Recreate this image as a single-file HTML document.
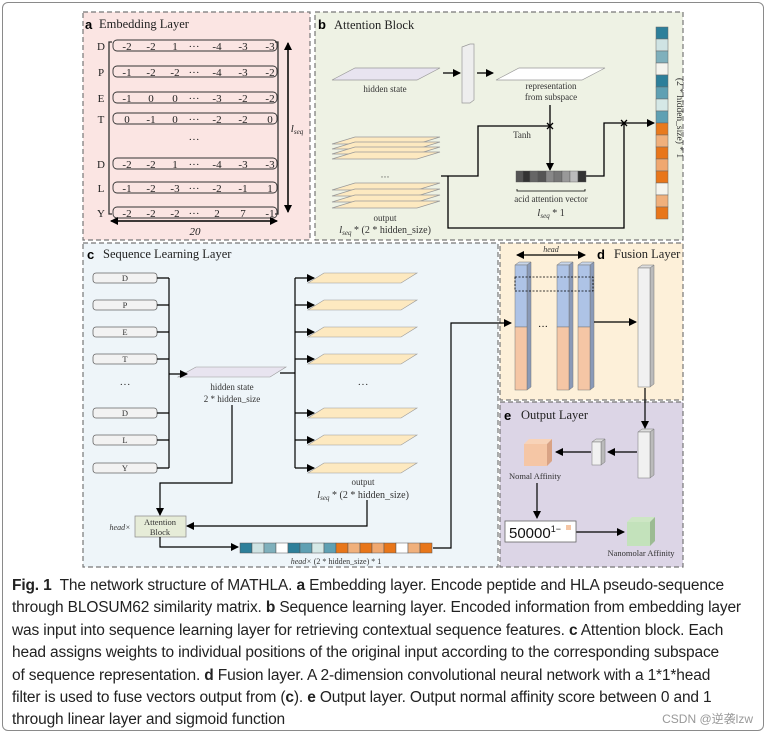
<!DOCTYPE html>
<html><head><meta charset="utf-8"><style>
html,body{margin:0;padding:0;background:#fff;}
body{width:767px;height:734px;position:relative;overflow:hidden;}
.frame{position:absolute;left:2px;top:2px;width:760px;height:727px;border:1px solid #8a8a8a;border-radius:6px;}
.cap{position:absolute;left:12px;top:575px;width:750px;font-family:"Liberation Sans",sans-serif;font-size:15.5px;line-height:22.4px;color:#222;letter-spacing:-0.15px;white-space:nowrap;}
.wm{position:absolute;right:14px;top:710px;font-family:"Liberation Sans","Noto Sans CJK SC",sans-serif;font-size:12px;color:#999;}
svg{position:absolute;left:0;top:0;}
</style></head><body>
<div class="frame"></div>
<svg width="767" height="734" viewBox="0 0 767 734" font-family="Liberation Serif, serif">
<defs><marker id="ar" markerWidth="8" markerHeight="8" refX="7" refY="4" orient="auto" markerUnits="userSpaceOnUse"><path d="M0,0 L8,4 L0,8z" fill="#000"/></marker>
<marker id="as" markerWidth="8" markerHeight="8" refX="1" refY="4" orient="auto" markerUnits="userSpaceOnUse"><path d="M8,0 L0,4 L8,8z" fill="#000"/></marker></defs>
<g stroke="#777" stroke-dasharray="5,3" stroke-width="1.2">
<rect x="83" y="12" width="227" height="228" fill="#fbe5e3"/>
<rect x="315" y="12" width="368" height="228" fill="#eef2e4"/>
<rect x="83" y="243" width="415" height="324" fill="#eef5f9"/>
<rect x="500" y="243" width="183" height="157" fill="#fdf0d9"/>
<rect x="500" y="402" width="183" height="165" fill="#dcd5e6"/>
</g>
<g font-family="Liberation Sans, sans-serif" font-weight="bold" font-size="13"><text x="85" y="29">a</text><text x="318" y="29">b</text><text x="87" y="259">c</text><text x="597" y="259">d</text><text x="504" y="420">e</text></g>
<g font-size="12.5" fill="#222"><text x="99" y="28">Embedding Layer</text><text x="334" y="29">Attention Block</text><text x="103" y="258">Sequence Learning Layer</text><text x="614" y="258">Fusion Layer</text><text x="521" y="419">Output Layer</text></g>
<!-- a -->
<g font-size="11" fill="#222" text-anchor="middle">
<path d="M112,42 h-3 v172 h3 M275,42 h3 v172 h-3" fill="none" stroke="#333" stroke-width="1.3"/>
<g fill="none" stroke="#333" stroke-width="0.9">
<rect x="113" y="40" width="164" height="11" rx="4"/><rect x="113" y="66" width="164" height="11" rx="4"/><rect x="113" y="92" width="164" height="11" rx="4"/><rect x="113" y="113" width="164" height="11" rx="4"/><rect x="113" y="158" width="164" height="11" rx="4"/><rect x="113" y="182" width="164" height="11" rx="4"/><rect x="113" y="207" width="164" height="11" rx="4"/></g>
<text x="101" y="50">D</text><text x="101" y="76">P</text><text x="101" y="102">E</text><text x="101" y="123">T</text><text x="101" y="168">D</text><text x="101" y="192">L</text><text x="101" y="217">Y</text>
<g><text y="50"><tspan x="127">-2</tspan><tspan x="151">-2</tspan><tspan x="175">1</tspan><tspan x="194">···</tspan><tspan x="217">-4</tspan><tspan x="243">-3</tspan><tspan x="270">-3</tspan></text>
<text y="76"><tspan x="127">-1</tspan><tspan x="151">-2</tspan><tspan x="175">-2</tspan><tspan x="194">···</tspan><tspan x="217">-4</tspan><tspan x="243">-3</tspan><tspan x="270">-2</tspan></text>
<text y="102"><tspan x="127">-1</tspan><tspan x="151">0</tspan><tspan x="175">0</tspan><tspan x="194">···</tspan><tspan x="217">-3</tspan><tspan x="243">-2</tspan><tspan x="270">-2</tspan></text>
<text y="123"><tspan x="127">0</tspan><tspan x="151">-1</tspan><tspan x="175">0</tspan><tspan x="194">···</tspan><tspan x="217">-2</tspan><tspan x="243">-2</tspan><tspan x="270">0</tspan></text>
<text x="194" y="143">···</text>
<text y="168"><tspan x="127">-2</tspan><tspan x="151">-2</tspan><tspan x="175">1</tspan><tspan x="194">···</tspan><tspan x="217">-4</tspan><tspan x="243">-3</tspan><tspan x="270">-3</tspan></text>
<text y="192"><tspan x="127">-1</tspan><tspan x="151">-2</tspan><tspan x="175">-3</tspan><tspan x="194">···</tspan><tspan x="217">-2</tspan><tspan x="243">-1</tspan><tspan x="270">1</tspan></text>
<text y="217"><tspan x="127">-2</tspan><tspan x="151">-2</tspan><tspan x="175">-2</tspan><tspan x="194">···</tspan><tspan x="217">2</tspan><tspan x="243">7</tspan><tspan x="270">-1</tspan></text></g>
<line x1="288" y1="43" x2="288" y2="212" stroke="#000" stroke-width="1.5" marker-start="url(#as)" marker-end="url(#ar)"/>
<text x="297" y="132" font-style="italic" font-size="11">l<tspan font-size="7" dy="2">seq</tspan></text>
<line x1="111" y1="221" x2="277" y2="221" stroke="#000" stroke-width="1.5" marker-start="url(#as)" marker-end="url(#ar)"/>
<text x="195" y="235" font-style="italic">20</text>
</g>
<!-- b -->
<g stroke="#999" stroke-width="0.7">
<polygon points="355,68 440,68 417,80 332,80" fill="#e8e4f0"/>
<polygon points="519,68 605,68 582,80 496,80" fill="#fff"/>
<polygon points="462,47 470,44 474,44 474,100 470,103 462,103" fill="#eee"/>
<g fill="#fde9c0"><polygon points="355,137 440,137 417,144 332,144"/><polygon points="355,142 440,142 417,149 332,149"/><polygon points="355,147 440,147 417,154 332,154"/><polygon points="355,152 440,152 417,159 332,159"/>
<polygon points="355,183 440,183 417,190 332,190"/><polygon points="355,189 440,189 417,196 332,196"/><polygon points="355,195 440,195 417,202 332,202"/><polygon points="355,201 440,201 417,208 332,208"/></g>
</g>
<g font-size="9" fill="#333" text-anchor="middle"><text x="385" y="92">hidden state</text><text x="551" y="89">representation</text><text x="551" y="100">from subspace</text><text x="385" y="180">···</text><text x="385" y="221">output</text><text x="385" y="233" font-size="10"><tspan font-style="italic" font-size="11">l</tspan><tspan font-size="7" font-style="italic" dy="2">seq</tspan><tspan dy="-2"> * (2 * hidden_size)</tspan></text><text x="522" y="138">Tanh</text><text x="551" y="202">acid attention vector</text><text x="551" y="216" font-size="10"><tspan font-style="italic" font-size="11">l</tspan><tspan font-size="7" font-style="italic" dy="2">seq</tspan><tspan dy="-2"> * 1</tspan></text></g>
<g stroke="#000" stroke-width="1.3" fill="none">
<line x1="443" y1="73" x2="460" y2="73" marker-end="url(#ar)"/><line x1="477" y1="73" x2="493" y2="73" marker-end="url(#ar)"/>
<line x1="550" y1="105" x2="550" y2="170" marker-end="url(#ar)"/>
<polyline points="441,176 478,176 478,126 550,126"/>
<polyline points="586,176 604,176 604,123 654,123" marker-end="url(#ar)"/>
<polyline points="448,176 448,228 624,228 624,123"/>
<path d="M547,123 l6,6 M553,123 l-6,6 M621,120 l6,6 M627,120 l-6,6"/>
<path d="M517,189 v2 h68 v-2" stroke-width="0.8"/>
</g>
<g stroke="#555" stroke-width="0.4"><rect x="516" y="171" width="7" height="11" fill="#555"/><rect x="523" y="171" width="7" height="11" fill="#333"/><rect x="530" y="171" width="8" height="11" fill="#666"/><rect x="538" y="171" width="8" height="11" fill="#555"/><rect x="546" y="171" width="8" height="11" fill="#888"/><rect x="554" y="171" width="8" height="11" fill="#777"/><rect x="562" y="171" width="8" height="11" fill="#999"/><rect x="570" y="171" width="8" height="11" fill="#bbb"/><rect x="578" y="171" width="8" height="11" fill="#333"/></g>
<g stroke="#666" stroke-width="0.5">
<rect x="656" y="27" width="12" height="12" fill="#2d7f9a"/><rect x="656" y="39" width="12" height="12" fill="#cfe3e3"/><rect x="656" y="51" width="12" height="12" fill="#7fb0bc"/><rect x="656" y="63" width="12" height="12" fill="#f4f4ee"/><rect x="656" y="75" width="12" height="12" fill="#2d7f9a"/><rect x="656" y="87" width="12" height="12" fill="#5fa0b3"/><rect x="656" y="99" width="12" height="12" fill="#d5e8e6"/><rect x="656" y="111" width="12" height="12" fill="#5fa0b3"/><rect x="656" y="123" width="12" height="12" fill="#e87a1e"/><rect x="656" y="135" width="12" height="12" fill="#f0b07c"/><rect x="656" y="147" width="12" height="12" fill="#e8761a"/><rect x="656" y="159" width="12" height="12" fill="#f0a870"/><rect x="656" y="171" width="12" height="12" fill="#e8761a"/><rect x="656" y="183" width="12" height="12" fill="#f5f5ee"/><rect x="656" y="195" width="12" height="12" fill="#f0b07c"/><rect x="656" y="207" width="12" height="12" fill="#e8761a"/></g>
<text x="0" y="0" font-size="9.5" fill="#333" text-anchor="middle" transform="translate(677,118) rotate(90)">(2 * hidden_size) * 1</text>
<!-- c -->
<g stroke="#666" stroke-width="0.8" fill="#f2f2f2">
<rect x="93" y="273" width="64" height="10" rx="3"/><rect x="93" y="300" width="64" height="10" rx="3"/><rect x="93" y="327" width="64" height="10" rx="3"/><rect x="93" y="354" width="64" height="10" rx="3"/><rect x="93" y="408" width="64" height="10" rx="3"/><rect x="93" y="435" width="64" height="10" rx="3"/><rect x="93" y="463" width="64" height="10" rx="3"/></g>
<g font-size="8.5" fill="#333" text-anchor="middle"><text x="125" y="281">D</text><text x="125" y="308">P</text><text x="125" y="335">E</text><text x="125" y="362">T</text><text x="125" y="388" font-size="11">···</text><text x="125" y="416">D</text><text x="125" y="443">L</text><text x="125" y="471">Y</text></g>
<polygon points="196,367 286,367 270,377 178,377" fill="#e8e4f0" stroke="#999" stroke-width="0.6"/>
<g fill="#fde9c0" stroke="#999" stroke-width="0.6">
<polygon points="324,273 417,273 401,283 308,283"/><polygon points="324,300 417,300 401,310 308,310"/><polygon points="324,327 417,327 401,337 308,337"/><polygon points="324,354 417,354 401,364 308,364"/><polygon points="324,408 417,408 401,418 308,418"/><polygon points="324,435 417,435 401,445 308,445"/><polygon points="324,463 417,463 401,473 308,473"/></g>
<g font-size="9" fill="#333" text-anchor="middle"><text x="232" y="390">hidden state</text><text x="232" y="402">2 * hidden_size</text><text x="363" y="388" font-size="11">···</text><text x="363" y="485">output</text><text x="363" y="498" font-size="10"><tspan font-style="italic" font-size="11">l</tspan><tspan font-size="7" font-style="italic" dy="2">seq</tspan><tspan dy="-2"> * (2 * hidden_size)</tspan></text>
<text x="120" y="530" font-style="italic" font-size="8">head×</text><text x="336" y="564" font-size="8"><tspan font-style="italic">head×</tspan> (2 * hidden_size) * 1</text></g>
<rect x="135" y="516" width="51" height="21" fill="#e6ecd8" stroke="#888" stroke-width="0.7"/>
<text x="160" y="525" font-size="8.5" text-anchor="middle" fill="#333">Attention</text><text x="160" y="535" font-size="8.5" text-anchor="middle" fill="#333">Block</text>
<g stroke="#000" stroke-width="1.2" fill="none">
<path d="M157,278 H169 M157,305 H169 M157,332 H169 M157,359 H169 M157,413 H169 M157,440 H169 M157,468 H169 M169,278 V468"/>
<line x1="169" y1="374" x2="187" y2="374" marker-end="url(#ar)"/>
<path d="M280,373 H295 M295,278 V468"/>
<line x1="295" y1="278" x2="314" y2="278" marker-end="url(#ar)"/><line x1="295" y1="305" x2="314" y2="305" marker-end="url(#ar)"/><line x1="295" y1="332" x2="314" y2="332" marker-end="url(#ar)"/><line x1="295" y1="359" x2="314" y2="359" marker-end="url(#ar)"/><line x1="295" y1="413" x2="314" y2="413" marker-end="url(#ar)"/><line x1="295" y1="440" x2="314" y2="440" marker-end="url(#ar)"/><line x1="295" y1="468" x2="314" y2="468" marker-end="url(#ar)"/>
<polyline points="232,405 232,483 160,483 160,515" marker-end="url(#ar)"/>
<polyline points="367,500 367,526 187,526" marker-end="url(#ar)"/>
<polyline points="160,537 160,547 238,547" marker-end="url(#ar)"/>
<polyline points="433,548 451,548 451,323 511,323" marker-end="url(#ar)"/>
</g>
<g stroke="#555" stroke-width="0.5">
<rect x="240" y="543" width="12" height="10" fill="#2d7f9a"/><rect x="252" y="543" width="12" height="10" fill="#cfe3e3"/><rect x="264" y="543" width="12" height="10" fill="#7fb0bc"/><rect x="276" y="543" width="12" height="10" fill="#fff"/><rect x="288" y="543" width="12" height="10" fill="#2d7f9a"/><rect x="300" y="543" width="12" height="10" fill="#5fa0b3"/><rect x="312" y="543" width="12" height="10" fill="#d5e8e6"/><rect x="324" y="543" width="12" height="10" fill="#5fa0b3"/><rect x="336" y="543" width="12" height="10" fill="#e8761a"/><rect x="348" y="543" width="12" height="10" fill="#f0b07c"/><rect x="360" y="543" width="12" height="10" fill="#e8761a"/><rect x="372" y="543" width="12" height="10" fill="#f0a870"/><rect x="384" y="543" width="12" height="10" fill="#e8761a"/><rect x="396" y="543" width="12" height="10" fill="#fff"/><rect x="408" y="543" width="12" height="10" fill="#f0b07c"/><rect x="420" y="543" width="12" height="10" fill="#e8761a"/></g>
<!-- d -->
<line x1="517" y1="255" x2="585" y2="255" stroke="#000" stroke-width="1.3" marker-start="url(#as)" marker-end="url(#ar)"/>
<text x="551" y="252" font-size="8" font-style="italic" text-anchor="middle" fill="#333">head</text>
<g stroke="#777" stroke-width="0.5">
<g id="col"><polygon points="515,265 519,262 531,262 527,265" fill="#c9d6ea"/><polygon points="527,265 531,262 531,387 527,390" fill="#8a9ab8"/><rect x="515" y="265" width="12" height="62" fill="#aec3e6"/><rect x="515" y="327" width="12" height="63" fill="#f5c6a5"/></g>
<use href="#col" x="42"/><use href="#col" x="63"/>
<polygon points="638,268 642,265 654,265 650,268" fill="#ddd"/><polygon points="650,268 654,265 654,384 650,387" fill="#bbb"/><rect x="638" y="268" width="12" height="119" fill="#f1f1f1"/>
</g>
<rect x="515" y="277" width="78" height="14" fill="none" stroke="#000" stroke-width="0.8" stroke-dasharray="2,1.5"/>
<text x="543" y="330" font-size="10" text-anchor="middle">···</text>
<line x1="594" y1="322" x2="636" y2="322" stroke="#000" stroke-width="1.2" marker-end="url(#ar)"/>
<!-- e -->
<g stroke="#777" stroke-width="0.5">
<polygon points="638,432 642,429 654,429 650,432" fill="#ddd"/><polygon points="650,432 654,429 654,475 650,478" fill="#bbb"/><rect x="638" y="432" width="12" height="46" fill="#f1f1f1"/>
<polygon points="592,442 596,439 605,439 601,442" fill="#ddd"/><polygon points="601,442 605,439 605,462 601,465" fill="#bbb"/><rect x="592" y="442" width="9" height="23" fill="#f1f1f1"/>
<polygon points="524,444 529,439 552,439 547,444" fill="#f8d3b8" stroke="none"/><polygon points="547,444 552,439 552,461 547,466" fill="#d9a385" stroke="none"/><rect x="524" y="444" width="23" height="22" fill="#f5c6a5" stroke="none"/>
<polygon points="627,522 632,517 655,517 650,522" fill="#cde6c4" stroke="none"/><polygon points="650,522 655,517 655,541 650,546" fill="#9cbb93" stroke="none"/><rect x="627" y="522" width="23" height="24" fill="#c3e2bb" stroke="none"/>
</g>
<g stroke="#000" stroke-width="1.2"><line x1="645" y1="388" x2="645" y2="428" marker-end="url(#ar)"/><line x1="637" y1="452" x2="608" y2="452" marker-end="url(#ar)"/><line x1="591" y1="452" x2="556" y2="452" marker-end="url(#ar)"/><line x1="537" y1="483" x2="537" y2="518" marker-end="url(#ar)"/><line x1="576" y1="532" x2="624" y2="532" marker-end="url(#ar)"/></g>
<rect x="505" y="521" width="71" height="21" fill="#fff" stroke="#666" stroke-width="0.8"/>
<text x="509" y="538" font-family="Liberation Sans, sans-serif" font-size="15" fill="#111">50000<tspan font-size="9" dy="-6">1−</tspan></text>
<rect x="566" y="525" width="5" height="5" fill="#f5c6a5"/>
<g font-size="8.5" fill="#333" text-anchor="middle"><text x="535" y="479">Nomal Affinity</text><text x="641" y="556">Nanomolar Affinity</text></g>
</svg>
<div class="cap"><b>Fig. 1</b>&nbsp; The network structure of MATHLA. <b>a</b> Embedding layer. Encode peptide and HLA pseudo-sequence<br>through BLOSUM62 similarity matrix. <b>b</b> Sequence learning layer. Encoded information from embedding layer<br>was input into sequence learning layer for retrieving contextual sequence features. <b>c</b> Attention block. Each<br>head assigns weights to individual positions of the original input according to the corresponding subspace<br>of sequence representation. <b>d</b> Fusion layer. A 2-dimension convolutional neural network with a 1*1*head<br>filter is used to fuse vectors output from (<b>c</b>). <b>e</b> Output layer. Output normal affinity score between 0 and 1<br>through linear layer and sigmoid function</div>
<div class="wm">CSDN @逆袭lzw</div>
</body></html>
